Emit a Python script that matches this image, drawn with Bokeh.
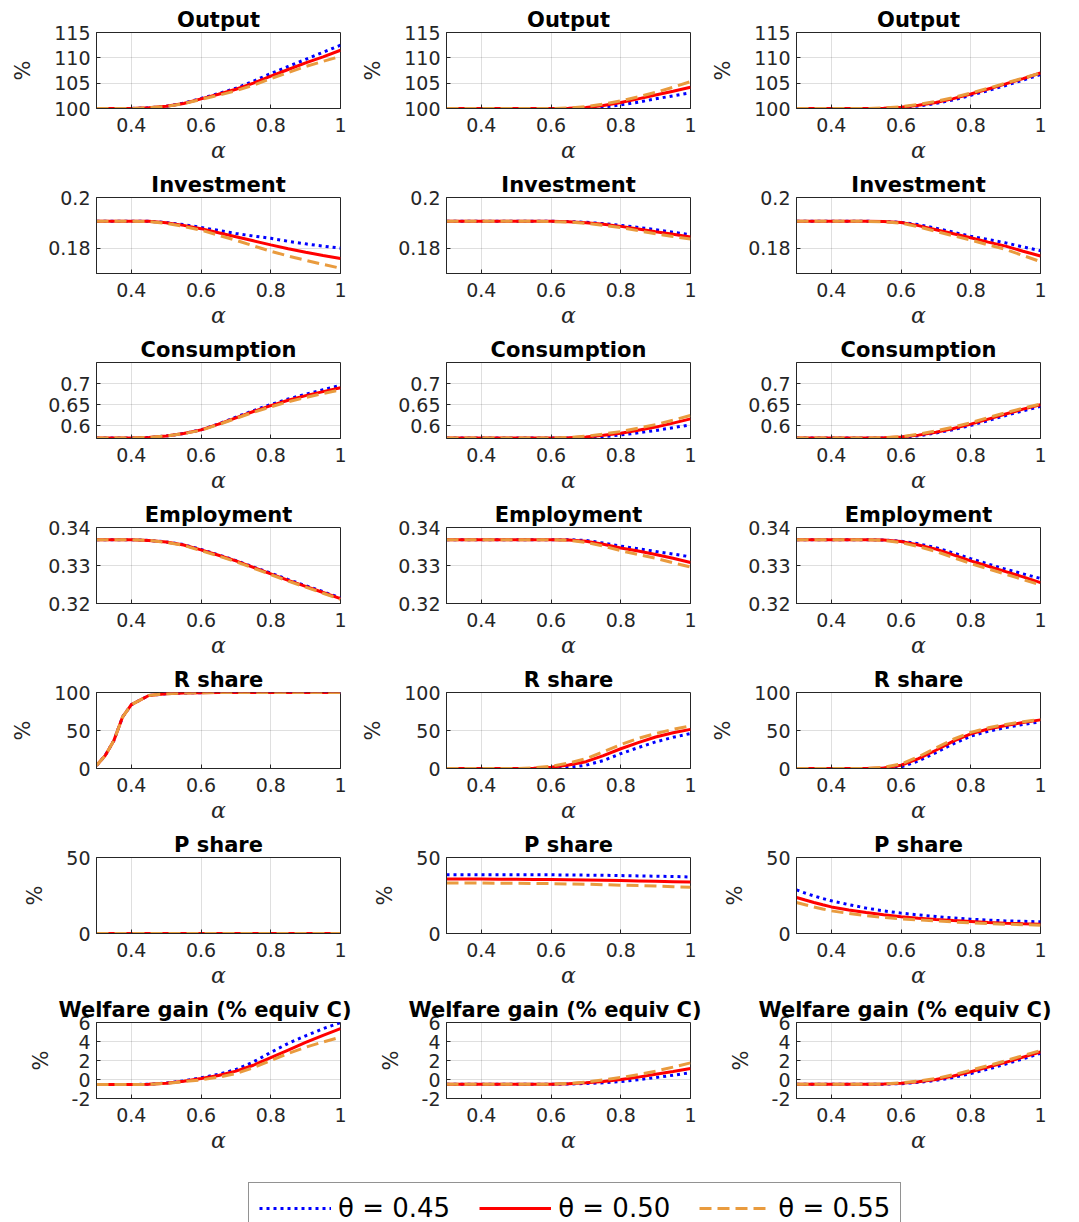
from bokeh.plotting import figure
from bokeh.layouts import gridplot, column, row
from bokeh.models import FixedTicker, Legend, LegendItem, ColumnDataSource, Spacer
from bokeh.embed import file_html
from bokeh.resources import INLINE

# ---------------- data ----------------
ALPHA = [0.30, 0.325, 0.35, 0.375, 0.40, 0.45, 0.50, 0.55, 0.60, 0.65,
         0.70, 0.75, 0.80, 0.85, 0.90, 0.95, 1.00]
THETA_LABELS = ["θ = 0.45", "θ = 0.50", "θ = 0.55"]

X_TICKS = [0.4, 0.6, 0.8, 1.0]
X_TICK_LABELS = ["0.4", "0.6", "0.8", "1"]

# Output (%)
output_c1_t45 = [100] * 5 + [100.15, 100.45, 101.05, 102.0, 102.95, 104.0, 105.4, 106.9, 108.3, 109.7, 111.1, 112.5]
output_c1_t50 = [100] * 5 + [100.15, 100.45, 101.0, 101.9, 102.8, 103.8, 105.0, 106.4, 107.7, 109.0, 110.2, 111.5]
output_c1_t55 = [100] * 5 + [100.15, 100.4, 100.95, 101.8, 102.6, 103.5, 104.6, 105.9, 107.1, 108.3, 109.3, 110.3]
output_c2_t45 = [100] * 10 + [100.05, 100.3, 100.7, 101.25, 101.9, 102.5, 103.1]
output_c2_t50 = [100] * 9 + [100.05, 100.2, 100.6, 101.2, 101.9, 102.65, 103.4, 104.2]
output_c2_t55 = [100] * 9 + [100.1, 100.35, 100.85, 101.5, 102.3, 103.2, 104.2, 105.3]
output_c3_t45 = [100] * 7 + [100.0, 100.15, 100.5, 101.0, 101.7, 102.6, 103.55, 104.55, 105.6, 106.7]
output_c3_t50 = [100] * 7 + [100.05, 100.25, 100.65, 101.2, 101.95, 102.85, 103.85, 104.85, 105.9, 107.0]
output_c3_t55 = [100] * 7 + [100.1, 100.35, 100.8, 101.4, 102.15, 103.05, 104.0, 105.0, 106.0, 107.0]

# Investment
invest_c1_t45 = [0.1906] * 6 + [0.1901, 0.1893, 0.1882, 0.1870, 0.1858, 0.1848, 0.1839, 0.1827, 0.1817, 0.1808, 0.1800]
invest_c1_t50 = [0.1906] * 6 + [0.1900, 0.1890, 0.1877, 0.1861, 0.1845, 0.1829, 0.1813, 0.1798, 0.1784, 0.1771, 0.1759]
invest_c1_t55 = [0.1906] * 5 + [0.1905, 0.1898, 0.1886, 0.1871, 0.1851, 0.1831, 0.1809, 0.1788, 0.1769, 0.1752, 0.1736, 0.1721]
invest_c2_t45 = [0.1906] * 9 + [0.1905, 0.1902, 0.1897, 0.1890, 0.1882, 0.1873, 0.1863, 0.1853]
invest_c2_t50 = [0.1906] * 9 + [0.1904, 0.1900, 0.1894, 0.1886, 0.1876, 0.1865, 0.1855, 0.1844]
invest_c2_t55 = [0.1906] * 8 + [0.1905, 0.1903, 0.1898, 0.1890, 0.1881, 0.1869, 0.1857, 0.1846, 0.1836]
invest_c3_t45 = [0.1906] * 7 + [0.1905, 0.1902, 0.1893, 0.1879, 0.1863, 0.1847, 0.1834, 0.1821, 0.1805, 0.1790]
invest_c3_t50 = [0.1906] * 7 + [0.1905, 0.1901, 0.1889, 0.1873, 0.1857, 0.1841, 0.1824, 0.1808, 0.1788, 0.1769]
invest_c3_t55 = [0.1906] * 7 + [0.1904, 0.1899, 0.1884, 0.1866, 0.1849, 0.1832, 0.1813, 0.1795, 0.1771, 0.1747]

# Consumption
cons_c1_t45 = [0.5712] * 5 + [0.5725, 0.5760, 0.5820, 0.5905, 0.6045, 0.6205, 0.6360, 0.6505, 0.6635, 0.6750, 0.6855, 0.6960]
cons_c1_t50 = [0.5712] * 5 + [0.5725, 0.5760, 0.5820, 0.5905, 0.6040, 0.6190, 0.6340, 0.6480, 0.6605, 0.6715, 0.6810, 0.6900]
cons_c1_t55 = [0.5712] * 5 + [0.5725, 0.5758, 0.5815, 0.5895, 0.6030, 0.6175, 0.6320, 0.6450, 0.6570, 0.6670, 0.6765, 0.6850]
cons_c2_t45 = [0.5712] * 10 + [0.5718, 0.5740, 0.5785, 0.5835, 0.5890, 0.5955, 0.6025]
cons_c2_t50 = [0.5712] * 9 + [0.5715, 0.5735, 0.5775, 0.5825, 0.5895, 0.5970, 0.6065, 0.6165]
cons_c2_t55 = [0.5712] * 9 + [0.5725, 0.5755, 0.5805, 0.5865, 0.5945, 0.6030, 0.6135, 0.6245]
cons_c3_t45 = [0.5712] * 7 + [0.5714, 0.5728, 0.5765, 0.5830, 0.5910, 0.6010, 0.6125, 0.6245, 0.6355, 0.6460]
cons_c3_t50 = [0.5712] * 7 + [0.5716, 0.5735, 0.5780, 0.5850, 0.5935, 0.6040, 0.6160, 0.6280, 0.6395, 0.6500]
cons_c3_t55 = [0.5712] * 7 + [0.5720, 0.5745, 0.5800, 0.5880, 0.5970, 0.6075, 0.6195, 0.6310, 0.6420, 0.6515]

# Employment
emp_c1_t45 = [0.3368] * 5 + [0.3366, 0.3362, 0.3355, 0.3342, 0.3328, 0.3313, 0.3296, 0.3280, 0.3263, 0.3247, 0.3231, 0.3215]
emp_c1_t50 = [0.3368] * 5 + [0.3366, 0.3362, 0.3354, 0.3341, 0.3327, 0.3312, 0.3295, 0.3278, 0.3261, 0.3245, 0.3229, 0.3213]
emp_c1_t55 = [0.3368] * 5 + [0.3366, 0.3361, 0.3353, 0.3339, 0.3325, 0.3310, 0.3293, 0.3276, 0.3259, 0.3243, 0.3227, 0.3211]
emp_c2_t45 = [0.3368] * 10 + [0.3366, 0.3359, 0.3351, 0.3344, 0.3337, 0.3330, 0.3323]
emp_c2_t50 = [0.3368] * 9 + [0.3367, 0.3364, 0.3356, 0.3346, 0.3338, 0.3329, 0.3319, 0.3308]
emp_c2_t55 = [0.3368] * 9 + [0.3366, 0.3361, 0.3351, 0.3339, 0.3329, 0.3319, 0.3307, 0.3296]
emp_c3_t45 = [0.3368] * 7 + [0.3367, 0.3364, 0.3357, 0.3347, 0.3333, 0.3318, 0.3304, 0.3290, 0.3278, 0.3266]
emp_c3_t50 = [0.3368] * 7 + [0.3367, 0.3363, 0.3354, 0.3343, 0.3328, 0.3312, 0.3298, 0.3284, 0.3270, 0.3255]
emp_c3_t55 = [0.3368] * 7 + [0.3366, 0.3360, 0.3350, 0.3337, 0.3321, 0.3305, 0.3291, 0.3277, 0.3263, 0.3249]

# R share (%)
rsh_c1_t45 = [4, 17, 37, 68, 84, 96, 98.5, 99.4, 99.8, 100, 100, 100, 100, 100, 100, 100, 100]
rsh_c1_t50 = [4, 17, 37, 68, 84, 96, 98.5, 99.4, 99.8, 100, 100, 100, 100, 100, 100, 100, 100]
rsh_c1_t55 = [4, 17, 37, 68, 84, 96, 98.5, 99.4, 99.8, 100, 100, 100, 100, 100, 100, 100, 100]
rsh_c2_t45 = [0] * 8 + [0.3, 1.5, 4.3, 10.5, 19.5, 27.5, 35, 41, 46]
rsh_c2_t50 = [0] * 7 + [0.3, 1.7, 4.5, 9, 17, 26, 34, 41.5, 47, 51.5]
rsh_c2_t55 = [0] * 7 + [1, 3, 7, 13, 22, 31.5, 39.5, 46, 51.5, 56]
rsh_c3_t45 = [0] * 7 + [0.2, 2, 10, 21, 32.5, 42.5, 49, 54, 58, 61.5]
rsh_c3_t50 = [0] * 7 + [0.8, 4.3, 13, 24, 36, 45.5, 52, 56.5, 60.5, 64]
rsh_c3_t55 = [0] * 7 + [1.5, 6, 15.5, 27, 38.5, 47.5, 53.5, 58, 61.5, 64.5]

# P share (%)
psh_c1_t45 = [0] * 17
psh_c1_t50 = [0] * 17
psh_c1_t55 = [0] * 17
psh_c2_t45 = [38.6] * 9 + [38.5, 38.4, 38.3, 38.1, 37.9, 37.7, 37.5, 37.2]
psh_c2_t50 = [35.8, 35.8, 35.8, 35.8, 35.8, 35.75, 35.7, 35.6, 35.5, 35.4, 35.2, 35.0, 34.8, 34.6, 34.4, 34.1, 33.8]
psh_c2_t55 = [33.2, 33.2, 33.2, 33.2, 33.2, 33.1, 33.0, 32.9, 32.8, 32.6, 32.4, 32.1, 31.8, 31.5, 31.2, 30.8, 30.4]
psh_c3_t45 = [28.7, 26.6, 24.7, 23.0, 21.5, 19.0, 16.7, 14.9, 13.4, 12.2, 11.2, 10.2, 9.4, 8.8, 8.3, 8.0, 7.7]
psh_c3_t50 = [23.7, 22.0, 20.4, 18.9, 17.5, 15.5, 13.8, 12.3, 11.0, 10.0, 9.2, 8.5, 7.9, 7.3, 6.8, 6.4, 6.1]
psh_c3_t55 = [20.4, 18.9, 17.4, 16.1, 14.9, 13.2, 11.8, 10.6, 9.6, 8.9, 8.3, 7.6, 7.0, 6.5, 6.1, 5.8, 5.5]

# Welfare gain (% equiv C)
wel_c1_t45 = [-0.53] * 5 + [-0.50, -0.38, -0.15, 0.18, 0.55, 1.05, 1.85, 2.85, 3.8, 4.6, 5.35, 6.0]
wel_c1_t50 = [-0.53] * 5 + [-0.50, -0.39, -0.18, 0.10, 0.42, 0.88, 1.5, 2.3, 3.1, 3.9, 4.65, 5.35]
wel_c1_t55 = [-0.53] * 5 + [-0.51, -0.41, -0.22, -0.04, 0.25, 0.62, 1.25, 2.0, 2.75, 3.4, 3.95, 4.45]
wel_c2_t45 = [-0.5] * 9 + [-0.48, -0.42, -0.35, -0.22, -0.02, 0.2, 0.45, 0.72]
wel_c2_t50 = [-0.5] * 9 + [-0.45, -0.35, -0.2, 0.0, 0.25, 0.55, 0.85, 1.16]
wel_c2_t55 = [-0.5] * 9 + [-0.42, -0.28, -0.05, 0.21, 0.52, 0.88, 1.3, 1.75]
wel_c3_t45 = [-0.5] * 7 + [-0.49, -0.44, -0.3, -0.1, 0.22, 0.63, 1.1, 1.62, 2.18, 2.75]
wel_c3_t50 = [-0.5] * 7 + [-0.48, -0.4, -0.23, 0.0, 0.37, 0.81, 1.3, 1.8, 2.35, 2.9]
wel_c3_t55 = [-0.5] * 7 + [-0.46, -0.36, -0.15, 0.1, 0.5, 0.98, 1.46, 1.97, 2.52, 3.05]

# Panel rows: title, y-range, y ticks, y tick labels, show "%" label, series per column
ROWS = [
    ("Output", (100, 115), [100, 105, 110, 115], ["100", "105", "110", "115"], True,
     [(output_c1_t45, output_c1_t50, output_c1_t55),
      (output_c2_t45, output_c2_t50, output_c2_t55),
      (output_c3_t45, output_c3_t50, output_c3_t55)]),
    ("Investment", (0.17, 0.2), [0.18, 0.2], ["0.18", "0.2"], False,
     [(invest_c1_t45, invest_c1_t50, invest_c1_t55),
      (invest_c2_t45, invest_c2_t50, invest_c2_t55),
      (invest_c3_t45, invest_c3_t50, invest_c3_t55)]),
    ("Consumption", (0.57, 0.75), [0.6, 0.65, 0.7], ["0.6", "0.65", "0.7"], False,
     [(cons_c1_t45, cons_c1_t50, cons_c1_t55),
      (cons_c2_t45, cons_c2_t50, cons_c2_t55),
      (cons_c3_t45, cons_c3_t50, cons_c3_t55)]),
    ("Employment", (0.32, 0.34), [0.32, 0.33, 0.34], ["0.32", "0.33", "0.34"], False,
     [(emp_c1_t45, emp_c1_t50, emp_c1_t55),
      (emp_c2_t45, emp_c2_t50, emp_c2_t55),
      (emp_c3_t45, emp_c3_t50, emp_c3_t55)]),
    ("R share", (0, 100), [0, 50, 100], ["0", "50", "100"], True,
     [(rsh_c1_t45, rsh_c1_t50, rsh_c1_t55),
      (rsh_c2_t45, rsh_c2_t50, rsh_c2_t55),
      (rsh_c3_t45, rsh_c3_t50, rsh_c3_t55)]),
    ("P share", (0, 50), [0, 50], ["0", "50"], True,
     [(psh_c1_t45, psh_c1_t50, psh_c1_t55),
      (psh_c2_t45, psh_c2_t50, psh_c2_t55),
      (psh_c3_t45, psh_c3_t50, psh_c3_t55)]),
    ("Welfare gain (% equiv C)", (-2, 6), [-2, 0, 2, 4, 6], ["-2", "0", "2", "4", "6"], True,
     [(wel_c1_t45, wel_c1_t50, wel_c1_t55),
      (wel_c2_t45, wel_c2_t50, wel_c2_t55),
      (wel_c3_t45, wel_c3_t50, wel_c3_t55)]),
]

# ---------------- styling ----------------
STYLES = [
    dict(line_color="#0000ff", line_dash="3 4", line_width=3),
    dict(line_color="#ff0000", line_dash="solid", line_width=3),
    dict(line_color="#e99b3e", line_dash="12 6", line_width=3),
]
AX = "#262626"
SANS = "DejaVu Sans"
W, H = 350, 165
BL, BR, BT, BB = 86, 18, 28, 61


def make_panel(title, yr, yticks, ylabels, pct, series):
    p = figure(width=W, height=H, x_range=(0.3, 1.0), y_range=yr,
               output_backend="svg", toolbar_location=None,
               min_border_left=BL, min_border_right=BR,
               min_border_top=BT, min_border_bottom=BB,
               background_fill_color="white", border_fill_color="white")
    p.title.text = title
    p.title.text_font = SANS
    p.title.text_font_style = "bold"
    p.title.text_font_size = "21px"
    p.title.text_color = "black"
    p.title.standoff = 1
    if len(title) > 15:
        # long title: shift left so it stays inside the panel's canvas
        p.title.align = "left"
        p.title.offset = -38
    else:
        p.title.align = "center"
    p.outline_line_color = AX
    p.outline_line_width = 1
    p.outline_line_alpha = 1

    xa = p.xaxis[0]
    xa.ticker = FixedTicker(ticks=X_TICKS)
    xa.major_label_overrides = {t: l for t, l in zip(X_TICKS, X_TICK_LABELS)}
    xa.axis_label = "α"
    xa.axis_label_text_font = "DejaVu Serif"
    xa.axis_label_text_font_style = "italic"
    xa.axis_label_text_font_size = "22px"
    xa.axis_label_text_color = AX
    xa.axis_label_standoff = 3
    xa.major_label_standoff = 9

    ya = p.yaxis[0]
    ya.ticker = FixedTicker(ticks=yticks)
    ya.major_label_overrides = {t: l for t, l in zip(yticks, ylabels)}
    ya.major_label_standoff = 6
    if pct:
        ya.axis_label = "%"
        ya.axis_label_text_font = SANS
        ya.axis_label_text_font_style = "normal"
        ya.axis_label_text_font_size = "21px"
        ya.axis_label_text_color = AX
        ya.axis_label_standoff = 16

    for ax in (xa, ya):
        ax.major_label_text_font = SANS
        ax.major_label_text_font_size = "19px"
        ax.major_label_text_color = AX
        ax.axis_line_color = AX
        ax.major_tick_line_color = AX
        ax.major_tick_in = 4
        ax.major_tick_out = 0
        ax.minor_tick_line_color = None

    p.grid.grid_line_color = AX
    p.grid.grid_line_alpha = 0.15
    p.grid.grid_line_width = 1

    for vals, st in zip(series, STYLES):
        src = ColumnDataSource(dict(x=ALPHA, y=vals))
        p.line("x", "y", source=src, **st)
    return p


grid_rows = []
for title, yr, yticks, ylabels, pct, cols in ROWS:
    grid_rows.append([make_panel(title, yr, yticks, ylabels, pct, s) for s in cols])

grid = gridplot(grid_rows, toolbar_location=None)

# ---------------- legend strip ----------------
# proxy lines reuse the first panel's data, kept outside this strip's visible range
leg = figure(width=3 * W, height=63, x_range=(0, 1), y_range=(0, 1),
             output_backend="svg", toolbar_location=None,
             x_axis_type=None, y_axis_type=None,
             min_border_left=0, min_border_right=0, min_border_top=0, min_border_bottom=0,
             outline_line_color=None, background_fill_color="white", border_fill_color="white")
leg.grid.visible = False
items = []
for lab, vals, st in zip(THETA_LABELS, ROWS[0][5][0], STYLES):
    r = leg.line(x=ALPHA, y=vals, **st)
    items.append(LegendItem(label=lab, renderers=[r]))
legend = Legend(items=items, orientation="horizontal", location=(240, -12),
                label_text_font=SANS, label_text_font_size="26px", label_text_color="black",
                glyph_width=72, glyph_height=20, label_standoff=7, spacing=29,
                padding=10, margin=0, border_line_color=AX, border_line_width=1,
                background_fill_color="white", background_fill_alpha=1)
leg.add_layout(legend, "center")

layout = row(Spacer(width=8),
             column(Spacer(height=4), grid, leg))
open("out.html", "w").write(file_html(layout, INLINE))
